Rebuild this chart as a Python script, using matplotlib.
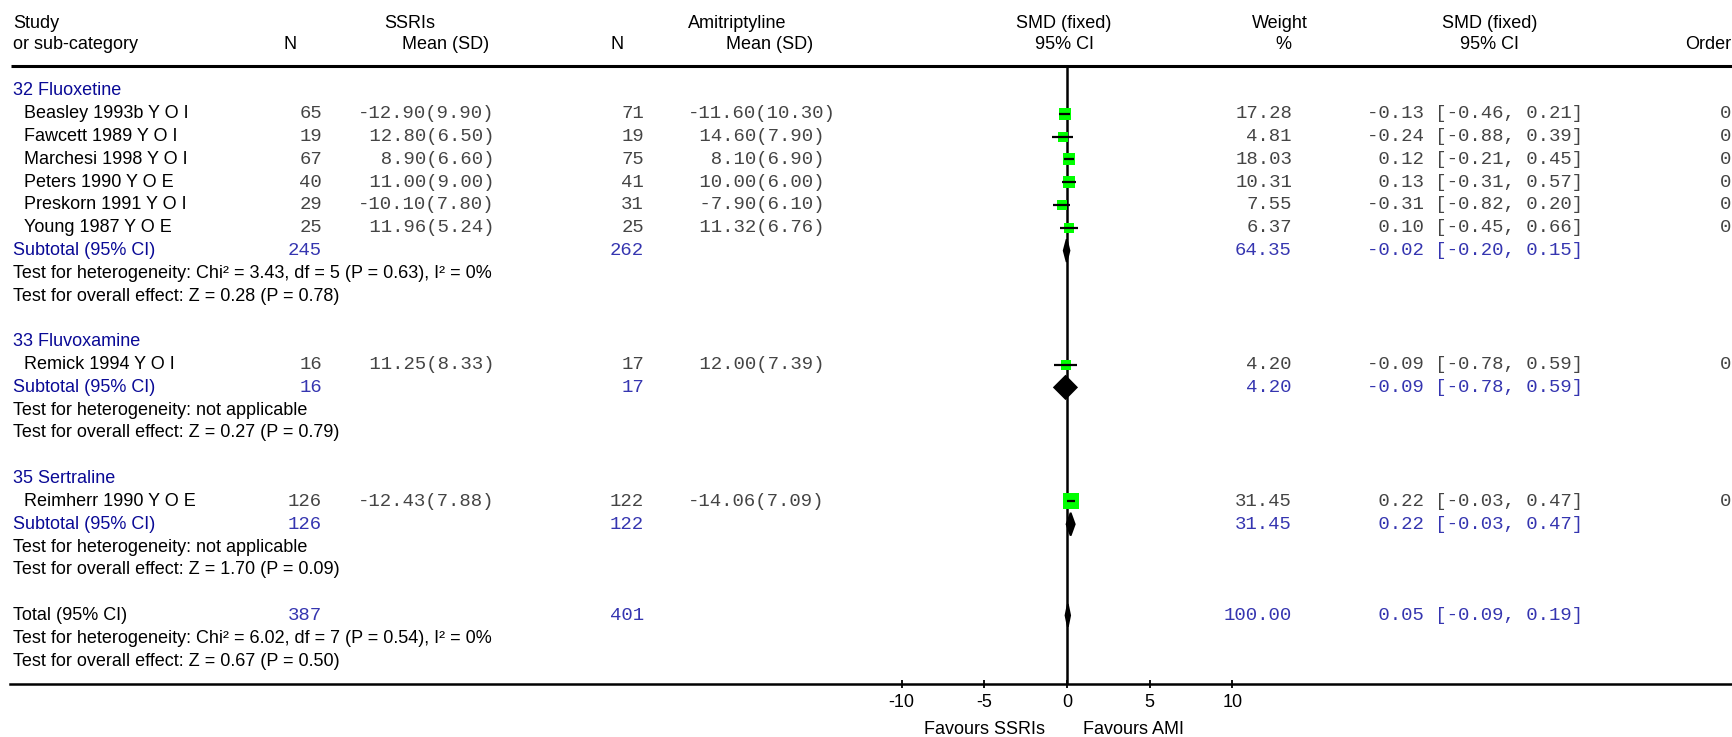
import matplotlib
matplotlib.use("Agg")
import matplotlib.pyplot as plt
from matplotlib.patches import Polygon
from matplotlib.transforms import blended_transform_factory

plt.rcParams['axes.unicode_minus'] = False

# --------------------------------------------------------------------------- #
# data
groups = ["32 Fluoxetine", "33 Fluvoxamine", "35 Sertraline"]

studies = ["Beasley 1993b Y O I", "Fawcett 1989 Y O I", "Marchesi 1998 Y O I",
           "Peters 1990 Y O E", "Preskorn 1991 Y O I", "Young 1987 Y O E",
           "Remick 1994 Y O I", "Reimherr 1990 Y O E"]
study_group = [0, 0, 0, 0, 0, 0, 1, 2]

ssri_n = [65, 19, 67, 40, 29, 25, 16, 126]
ssri_mean = [-12.90, 12.80, 8.90, 11.00, -10.10, 11.96, 11.25, -12.43]
ssri_sd = [9.90, 6.50, 6.60, 9.00, 7.80, 5.24, 8.33, 7.88]
ami_n = [71, 19, 75, 41, 31, 25, 17, 122]
ami_mean = [-11.60, 14.60, 8.10, 10.00, -7.90, 11.32, 12.00, -14.06]
ami_sd = [10.30, 7.90, 6.90, 6.00, 6.10, 6.76, 7.39, 7.09]
weight = [17.28, 4.81, 18.03, 10.31, 7.55, 6.37, 4.20, 31.45]
smd = [-0.13, -0.24, 0.12, 0.13, -0.31, 0.10, -0.09, 0.22]
smd_lo = [-0.46, -0.88, -0.21, -0.31, -0.82, -0.45, -0.78, -0.03]
smd_hi = [0.21, 0.39, 0.45, 0.57, 0.20, 0.66, 0.59, 0.47]
order = [0, 0, 0, 0, 0, 0, 0, 0]

sub_ssri_n = [245, 16, 126]
sub_ami_n = [262, 17, 122]
sub_weight = [64.35, 4.20, 31.45]
sub_smd = [-0.02, -0.09, 0.22]
sub_lo = [-0.20, -0.78, -0.03]
sub_hi = [0.15, 0.59, 0.47]
sub_het = ["Test for heterogeneity: Chi\u00b2 = 3.43, df = 5 (P = 0.63), I\u00b2 = 0%",
           "Test for heterogeneity: not applicable",
           "Test for heterogeneity: not applicable"]
sub_effect = ["Test for overall effect: Z = 0.28 (P = 0.78)",
              "Test for overall effect: Z = 0.27 (P = 0.79)",
              "Test for overall effect: Z = 1.70 (P = 0.09)"]

total_ssri_n = 387
total_ami_n = 401
total_weight = 100.00
total_smd, total_lo, total_hi = 0.05, -0.09, 0.19
total_het = "Test for heterogeneity: Chi\u00b2 = 6.02, df = 7 (P = 0.54), I\u00b2 = 0%"
total_effect = "Test for overall effect: Z = 0.67 (P = 0.50)"

axis_ticks = [-10, -5, 0, 5, 10]

# --------------------------------------------------------------------------- #
# layout (pixels of the 1733 x 737 picture)
W, H = 1733, 737
ZERO_PX, UNIT_PX = 1067, 16.53      # x of SMD = 0 and pixels per SMD unit
ROW0_PX, ROW_PX = 91, 22.8          # y of first row and row spacing

SANS = ['Liberation Sans', 'DejaVu Sans']
MONO = ['Liberation Mono', 'DejaVu Sans Mono']
FS = 13.0
MFS = 13.7
BLUE = '#0a0a96'
MBLUE = '#3535b0'
GREY = '#444444'

fig = plt.figure(figsize=(W / 100, H / 100), dpi=100)
ax = fig.add_axes([0, 0, 1, 1])
ax.set_xlim(-ZERO_PX / UNIT_PX, (W - ZERO_PX) / UNIT_PX)
ax.set_ylim((H - ROW0_PX) / ROW_PX, -ROW0_PX / ROW_PX)

tr = blended_transform_factory(ax.transAxes, ax.transData)


def put(xpx, row, s, ha='left', mono=False, color='black'):
    ax.text(xpx / W, row, s, transform=tr, ha=ha, va='center',
            family=MONO if mono else SANS, fontsize=MFS if mono else FS,
            color=color, clip_on=False)


def px2x(xpx):
    return (xpx - ZERO_PX) / UNIT_PX


def diamond(est, lo, hi, row):
    pts = [(lo, row), (est, row - 0.5), (hi, row), (est, row + 0.5)]
    ax.add_patch(Polygon(pts, closed=True, facecolor='black',
                         edgecolor='black', lw=1.3, zorder=4))


# column positions
X_LEFT, X_INDENT = 13, 24
X_SN, X_SM = 322, 358
X_AN, X_AM = 644, 688
X_W, X_CI, X_ORD = 1292, 1367, 1731

# ---- header
H1, H2 = -2.95, -2.05
put(X_LEFT, H1, "Study")
put(X_LEFT, H2, "or sub-category")
put(410, H1, "SSRIs", ha='center')
put(290, H2, "N", ha='center')
put(446, H2, "Mean (SD)", ha='center')
put(737, H1, "Amitriptyline", ha='center')
put(617, H2, "N", ha='center')
put(770, H2, "Mean (SD)", ha='center')
put(1064, H1, "SMD (fixed)", ha='center')
put(1065, H2, "95% CI", ha='center')
put(1280, H1, "Weight", ha='center')
put(1283, H2, "%", ha='center')
put(1490, H1, "SMD (fixed)", ha='center')
put(1490, H2, "95% CI", ha='center')
put(X_ORD, H2, "Order", ha='right')

TOP_ROW = (66.5 - ROW0_PX) / ROW_PX
AXIS_ROW = (684 - ROW0_PX) / ROW_PX
ax.hlines(TOP_ROW, px2x(11), px2x(W), color='black', lw=2.2, zorder=5)
ax.vlines(0, TOP_ROW, AXIS_ROW, color='black', lw=1.8, zorder=2)

# ---- rows
row = 0
for g, name in enumerate(groups):
    put(X_LEFT, row, name, color=BLUE)
    row += 1
    for i in range(len(studies)):
        if study_group[i] != g:
            continue
        put(X_INDENT, row, studies[i])
        put(X_SN, row, f"{ssri_n[i]}", ha='right', mono=True, color=GREY)
        put(X_SM, row, f"{ssri_mean[i]:6.2f}({ssri_sd[i]:.2f})", mono=True, color=GREY)
        put(X_AN, row, f"{ami_n[i]}", ha='right', mono=True, color=GREY)
        put(X_AM, row, f"{ami_mean[i]:6.2f}({ami_sd[i]:.2f})", mono=True, color=GREY)
        put(X_W, row, f"{weight[i]:.2f}", ha='right', mono=True, color=GREY)
        put(X_CI, row, f"{smd[i]:5.2f} [{smd_lo[i]:5.2f}, {smd_hi[i]:.2f}]", mono=True, color=GREY)
        put(X_ORD, row, f"{order[i]}", ha='right', mono=True, color=GREY)
        side = (9 + 0.2 * weight[i]) * 0.72
        ax.scatter([smd[i]], [row], s=side ** 2, marker='s', color='#00ff00',
                   linewidths=0, zorder=3)
        ax.plot([smd_lo[i], smd_hi[i]], [row, row], color='black', lw=1.6,
                solid_capstyle='butt', zorder=4)
        row += 1
    put(X_LEFT, row, "Subtotal (95% CI)", color=BLUE)
    put(X_SN, row, f"{sub_ssri_n[g]}", ha='right', mono=True, color=MBLUE)
    put(X_AN, row, f"{sub_ami_n[g]}", ha='right', mono=True, color=MBLUE)
    put(X_W, row, f"{sub_weight[g]:.2f}", ha='right', mono=True, color=MBLUE)
    put(X_CI, row, f"{sub_smd[g]:5.2f} [{sub_lo[g]:5.2f}, {sub_hi[g]:.2f}]", mono=True, color=MBLUE)
    diamond(sub_smd[g], sub_lo[g], sub_hi[g], row)
    row += 1
    put(X_LEFT, row, sub_het[g])
    row += 1
    put(X_LEFT, row, sub_effect[g])
    row += 2

put(X_LEFT, row, "Total (95% CI)")
put(X_SN, row, f"{total_ssri_n}", ha='right', mono=True, color=MBLUE)
put(X_AN, row, f"{total_ami_n}", ha='right', mono=True, color=MBLUE)
put(X_W, row, f"{total_weight:.2f}", ha='right', mono=True, color=MBLUE)
put(X_CI, row, f"{total_smd:5.2f} [{total_lo:5.2f}, {total_hi:.2f}]", mono=True, color=MBLUE)
diamond(total_smd, total_lo, total_hi, row)
put(X_LEFT, row + 1, total_het)
put(X_LEFT, row + 2, total_effect)

# ---- bottom axis
for side_name in ['top', 'right', 'left']:
    ax.spines[side_name].set_visible(False)
ax.spines['bottom'].set_position(('data', AXIS_ROW))
ax.spines['bottom'].set_bounds(px2x(10), px2x(W))
ax.spines['bottom'].set_linewidth(1.8)
ax.set_xticks(axis_ticks)
ax.set_xticklabels([str(t) for t in axis_ticks])
ax.tick_params(axis='x', direction='inout', length=6, width=1.3, pad=4)
for lab in ax.get_xticklabels():
    lab.set_family(SANS)
    lab.set_fontsize(13)
ax.set_yticks([])

FAV_ROW = (729 - ROW0_PX) / ROW_PX
ax.text(px2x(1045), FAV_ROW, "Favours SSRIs", ha='right', va='center',
        family=SANS, fontsize=FS, clip_on=False)
ax.text(px2x(1083), FAV_ROW, "Favours AMI", ha='left', va='center',
        family=SANS, fontsize=FS, clip_on=False)

fig.savefig("out.png", dpi=100, facecolor='white')
